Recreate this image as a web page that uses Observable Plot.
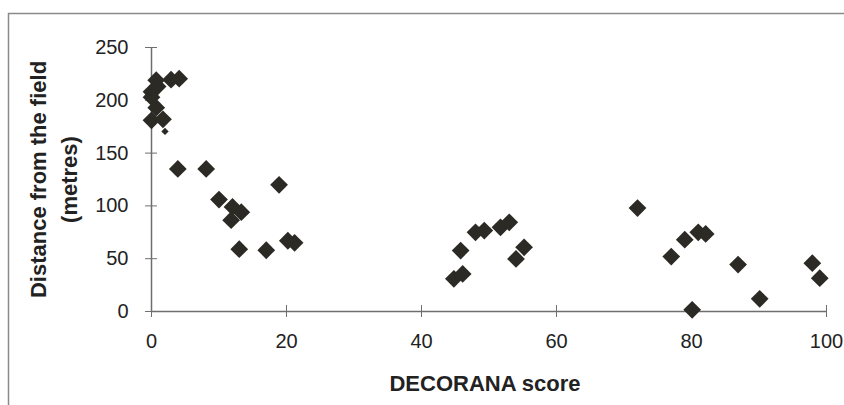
<!DOCTYPE html>
<html><head><meta charset="utf-8">
<script src="https://cdn.jsdelivr.net/npm/d3@7"></script>
<script src="https://cdn.jsdelivr.net/npm/@observablehq/plot@0.6"></script>
<style>
body{margin:0;background:#fff}
#chart{position:relative;width:844px;height:405px;overflow:hidden}
</style>
</head><body><div id="chart"></div>
<script>
const scoreX = [0.7, 2.9, 4.1, 0.9, 0, 0, 0.7, 0, 1.7,
  3.9, 8.1, 10.0, 12.0, 13.3, 11.8, 13.0, 17.0, 18.9, 20.2, 21.2,
  45.8, 44.8, 46.1, 48.0, 49.3, 51.7, 53.0, 54.0, 55.2,
  72.0, 77.0, 79.0, 81.0, 82.1, 80.1, 86.9, 90.1, 97.9, 99.0];
const distanceY = [219, 219.5, 220.5, 213, 208, 203, 193, 181, 182,
  135, 135, 106, 99, 94, 86.5, 59, 58, 120, 67, 65,
  57.7, 30.9, 35.6, 75, 76.6, 79.7, 84.4, 49.8, 60.8,
  98, 52, 68, 75, 73.4, 1.6, 44.4, 12, 45.7, 31.5];
const smallX = [2.0];
const smallY = [170.5];
const xTicks = [0, 20, 40, 60, 80, 100];
const yTicks = [0, 50, 100, 150, 200, 250];
const xTitle = "DECORANA score";
const yTitle = "Distance from the field\n(metres)";

const points = scoreX.map((x, i) => ({x, y: distanceY[i]}));
const smallPoints = smallX.map((x, i) => ({x, y: smallY[i]}));

const axisColor = "#6e6e6e";
const dotColor = "#2c2a25";

const plot = Plot.plot({
  width: 844, height: 405,
  marginLeft: 151, marginRight: 18, marginTop: 47, marginBottom: 94,
  style: {fontFamily: "'Liberation Sans', Arial, sans-serif", fontSize: "20px", color: "#222", background: "transparent"},
  x: {domain: [0, 100]},
  y: {domain: [0, 250]},
  marks: [
    Plot.ruleY([0], {stroke: axisColor, strokeWidth: 1.5}),
    Plot.ruleX([0], {stroke: axisColor, strokeWidth: 1.5}),
    Plot.axisX(xTicks, {anchor: "bottom", tickSize: 6, tickPadding: 16, stroke: axisColor, label: null, fontSize: 20, fill: "#222"}),
    Plot.axisX(xTicks, {anchor: "bottom", tickSize: -6, tickFormat: () => "", stroke: axisColor, label: null}),
    Plot.axisY(yTicks, {anchor: "left", tickSize: 6, tickPadding: 17, stroke: axisColor, label: null, fontSize: 20, fill: "#222"}),
    Plot.axisY(yTicks, {anchor: "left", tickSize: -6, tickFormat: () => "", stroke: axisColor, label: null}),
    Plot.dot(points, {x: "x", y: "y", symbol: "diamond2", r: 8, fill: dotColor}),
    Plot.dot(smallPoints, {x: "x", y: "y", symbol: "diamond2", r: 3.3, fill: dotColor}),
    Plot.text([xTitle], {frameAnchor: "bottom", dy: 72, dx: -4, lineAnchor: "middle", fontWeight: "bold", fontSize: 22, fill: "#222"}),
    Plot.text([yTitle], {frameAnchor: "left", dx: -100, rotate: -90, textAnchor: "middle", lineAnchor: "middle", lineHeight: 1.42, fontWeight: "bold", fontSize: 22, fill: "#222"})
  ]
});

d3.select(plot).insert("rect", ":first-child")
  .attr("x", 8.5).attr("y", 13.5).attr("width", 900).attr("height", 500)
  .attr("fill", "none").attr("stroke", "#8a8a8a").attr("stroke-width", 1.5);

document.getElementById("chart").appendChild(plot);
</script>
</body></html>
